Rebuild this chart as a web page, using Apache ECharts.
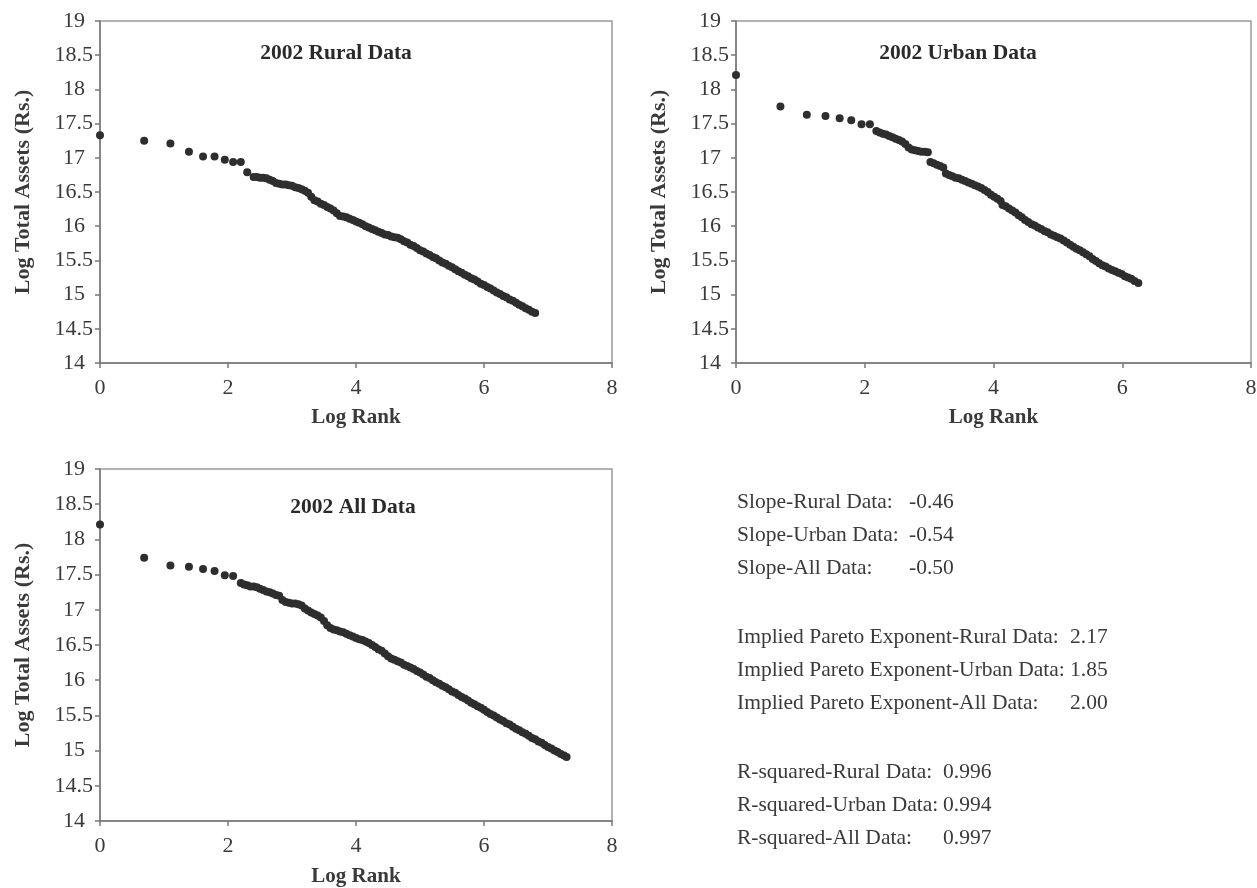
<!DOCTYPE html>
<html>
<head>
<meta charset="utf-8">
<script src="https://cdn.jsdelivr.net/npm/echarts@6/dist/echarts.min.js"></script>
<style>
  html, body { margin: 0; padding: 0; background: #fff; }
  #chart { width: 1257px; height: 888px; }
</style>
</head>
<body>
<div id="chart"></div>
<script>
// Log rank / log total assets pairs, 2002 rural firms
const ruralLogRank = [0, 0.69, 1.10, 1.39, 1.61, 1.79, 1.95, 2.08, 2.20, 2.30,
  2.40, 2.45, 2.50, 2.55, 2.60, 2.65, 2.70, 2.75, 2.80, 2.85, 2.90, 2.95, 3.00, 3.05, 3.10, 3.15, 3.20, 3.25, 3.30, 3.35,
  3.40, 3.45, 3.50, 3.55, 3.60, 3.65, 3.70, 3.75, 3.80, 3.85, 3.90, 3.95, 4.00, 4.05, 4.10, 4.15, 4.20, 4.25, 4.30, 4.35,
  4.40, 4.45, 4.50, 4.55, 4.60, 4.65, 4.70, 4.75, 4.80, 4.85, 4.90, 4.95, 5.00, 5.05, 5.10, 5.15, 5.20, 5.25, 5.30, 5.35,
  5.40, 5.45, 5.50, 5.55, 5.60, 5.65, 5.70, 5.75, 5.80, 5.85, 5.90, 5.95, 6.00, 6.05, 6.10, 6.15, 6.20, 6.25, 6.30, 6.35,
  6.40, 6.45, 6.50, 6.55, 6.60, 6.65, 6.70, 6.75, 6.80];
const ruralLogAssets = [17.33, 17.25, 17.21, 17.09, 17.02, 17.02, 16.97, 16.94, 16.94, 16.79,
  16.72, 16.72, 16.71, 16.71, 16.70, 16.68, 16.66, 16.63, 16.62, 16.61, 16.61, 16.60, 16.59, 16.57, 16.56, 16.54, 16.52, 16.49, 16.43, 16.38,
  16.36, 16.33, 16.31, 16.28, 16.26, 16.23, 16.19, 16.15, 16.14, 16.13, 16.11, 16.09, 16.07, 16.05, 16.03, 16.00, 15.98, 15.96, 15.94, 15.92,
  15.90, 15.88, 15.87, 15.85, 15.84, 15.83, 15.81, 15.78, 15.76, 15.73, 15.71, 15.68, 15.65, 15.63, 15.60, 15.58, 15.55, 15.53, 15.50, 15.47,
  15.45, 15.42, 15.40, 15.37, 15.34, 15.32, 15.29, 15.27, 15.24, 15.22, 15.19, 15.16, 15.14, 15.11, 15.09, 15.06, 15.03, 15.01, 14.98, 14.96,
  14.93, 14.91, 14.88, 14.85, 14.83, 14.80, 14.78, 14.75, 14.73];

// 2002 urban firms
const urbanLogRank = [0, 0.69, 1.10, 1.39, 1.61, 1.79, 1.95, 2.08,
  2.18, 2.23, 2.28, 2.33, 2.38, 2.43, 2.48, 2.53, 2.58, 2.63, 2.68, 2.73, 2.78, 2.83, 2.88, 2.93, 2.98,
  3.02, 3.07, 3.12, 3.17, 3.22, 3.26, 3.31, 3.36, 3.41, 3.46, 3.51, 3.56, 3.61, 3.66, 3.71, 3.76, 3.81, 3.86, 3.91, 3.96,
  4.01, 4.06, 4.11, 4.14, 4.19, 4.24, 4.29, 4.34, 4.39, 4.44, 4.49, 4.54, 4.59, 4.64, 4.69, 4.74, 4.79, 4.84, 4.89, 4.94,
  4.99, 5.04, 5.09, 5.14, 5.19, 5.24, 5.29, 5.34, 5.39, 5.44, 5.49, 5.54, 5.59, 5.64, 5.69, 5.74, 5.79, 5.84, 5.89, 5.94,
  5.99, 6.04, 6.09, 6.14, 6.19, 6.25];
const urbanLogAssets = [18.21, 17.75, 17.63, 17.61, 17.58, 17.55, 17.49, 17.49,
  17.39, 17.37, 17.35, 17.34, 17.32, 17.30, 17.28, 17.26, 17.24, 17.20, 17.15, 17.12, 17.11, 17.10, 17.09, 17.09, 17.08,
  16.94, 16.92, 16.90, 16.88, 16.86, 16.77, 16.75, 16.73, 16.71, 16.70, 16.68, 16.66, 16.64, 16.62, 16.60, 16.58, 16.56, 16.53, 16.50, 16.46,
  16.43, 16.40, 16.37, 16.31, 16.29, 16.26, 16.23, 16.20, 16.16, 16.13, 16.09, 16.06, 16.03, 16.01, 15.98, 15.96, 15.93, 15.91, 15.88, 15.86,
  15.84, 15.82, 15.79, 15.76, 15.73, 15.70, 15.67, 15.65, 15.62, 15.59, 15.56, 15.52, 15.49, 15.46, 15.43, 15.41, 15.38, 15.36, 15.34, 15.32,
  15.30, 15.27, 15.25, 15.23, 15.20, 15.17];

// 2002 all firms
const allLogRank = [0, 0.69, 1.10, 1.39, 1.61, 1.79, 1.95, 2.08,
  2.20, 2.25, 2.30, 2.35, 2.40, 2.45, 2.50, 2.55, 2.60, 2.65, 2.70, 2.75, 2.80, 2.85, 2.90, 2.95, 3.00, 3.05, 3.10, 3.15,
  3.20, 3.25, 3.30, 3.35, 3.40, 3.45, 3.50, 3.55, 3.60, 3.65, 3.70, 3.75, 3.80, 3.85, 3.90, 3.95, 4.00, 4.05, 4.10, 4.15,
  4.20, 4.25, 4.30, 4.35, 4.40, 4.45, 4.50, 4.55, 4.60, 4.65, 4.70, 4.75, 4.80, 4.85, 4.90, 4.95, 5.00, 5.05, 5.10, 5.15,
  5.20, 5.25, 5.30, 5.35, 5.40, 5.45, 5.50, 5.55, 5.60, 5.65, 5.70, 5.75, 5.80, 5.85, 5.90, 5.95, 6.00, 6.05, 6.10, 6.15,
  6.20, 6.25, 6.30, 6.35, 6.40, 6.45, 6.50, 6.55, 6.60, 6.65, 6.70, 6.75, 6.80, 6.85, 6.90, 6.95, 7.00, 7.05, 7.10, 7.15,
  7.20, 7.25, 7.29];
const allLogAssets = [18.21, 17.74, 17.63, 17.61, 17.58, 17.55, 17.49, 17.48,
  17.38, 17.36, 17.35, 17.33, 17.33, 17.32, 17.30, 17.28, 17.26, 17.25, 17.23, 17.21, 17.20, 17.14, 17.11, 17.10, 17.09, 17.09, 17.08, 17.06,
  17.02, 16.99, 16.96, 16.94, 16.92, 16.89, 16.84, 16.78, 16.74, 16.72, 16.71, 16.69, 16.68, 16.66, 16.64, 16.62, 16.60, 16.58, 16.57, 16.55,
  16.53, 16.50, 16.47, 16.44, 16.42, 16.38, 16.34, 16.31, 16.29, 16.27, 16.25, 16.22, 16.20, 16.18, 16.16, 16.13, 16.11, 16.08, 16.05, 16.03,
  16.00, 15.97, 15.95, 15.92, 15.90, 15.87, 15.84, 15.82, 15.79, 15.76, 15.74, 15.71, 15.68, 15.66, 15.63, 15.61, 15.58, 15.55, 15.52, 15.50,
  15.47, 15.44, 15.42, 15.39, 15.37, 15.34, 15.31, 15.29, 15.26, 15.24, 15.21, 15.18, 15.16, 15.13, 15.11, 15.08, 15.05, 15.03, 15.00, 14.98,
  14.95, 14.93, 14.91];

const panelTitles = ['2002 Rural Data', '2002 Urban Data', '2002 All Data'];

// Regression summary
const slopeLabels = ['Slope-Rural Data:', 'Slope-Urban Data:', 'Slope-All Data:'];
const slopeValues = ['-0.46', '-0.54', '-0.50'];
const paretoLabels = ['Implied Pareto Exponent-Rural Data:', 'Implied Pareto Exponent-Urban Data:', 'Implied Pareto Exponent-All Data:'];
const paretoValues = ['2.17', '1.85', '2.00'];
const r2Labels = ['R-squared-Rural Data:', 'R-squared-Urban Data:', 'R-squared-All Data:'];
const r2Values = ['0.996', '0.994', '0.997'];

const FONT = '"Liberation Serif", "Times New Roman", serif';
const TEXT = '#3a3a3a';
const DOT = '#2e2e2e';
const TICK_FONT = 22;

const grids = [
  { left: 100, top: 21, width: 512, height: 342 },
  { left: 736, top: 21, width: 515, height: 342 },
  { left: 100, top: 469, width: 512, height: 352 }
];
const xNameGaps = [44, 44, 45];

function pairs(xs, ys) { return xs.map((x, i) => [x, ys[i]]); }

const intLabelRich = {
  i: { fontFamily: FONT, fontSize: TICK_FONT, color: TEXT, padding: [0, 8, 0, 0] }
};

const xAxes = grids.map((g, i) => ({
  type: 'value', gridIndex: i, min: 0, max: 8, interval: 2,
  name: 'Log Rank', nameLocation: 'middle', nameGap: xNameGaps[i],
  nameTextStyle: { fontFamily: FONT, fontSize: 21, fontWeight: 'bold', color: TEXT },
  axisLine: { show: true, onZero: false, lineStyle: { color: '#777', width: 1.5 } },
  axisTick: { show: true, length: 5, lineStyle: { color: '#777', width: 1.5 } },
  axisLabel: { fontFamily: FONT, fontSize: TICK_FONT, color: TEXT, margin: 14 },
  splitLine: { show: false }
}));

const yAxes = grids.map((g, i) => ({
  type: 'value', gridIndex: i, min: 14, max: 19, interval: 0.5,
  name: 'Log Total Assets (Rs.)', nameLocation: 'middle', nameGap: 66,
  nameTextStyle: { fontFamily: FONT, fontSize: 22, fontWeight: 'bold', color: TEXT },
  axisLine: { show: true, onZero: false, lineStyle: { color: '#777', width: 1.5 } },
  axisTick: { show: true, length: 5, lineStyle: { color: '#777', width: 1.5 } },
  axisLabel: {
    fontFamily: FONT, fontSize: TICK_FONT, color: TEXT, margin: 7,
    formatter: v => Number.isInteger(v) ? '{i|' + v + '}' : String(v),
    rich: intLabelRich
  },
  splitLine: { show: false }
}));

const seriesData = [
  pairs(ruralLogRank, ruralLogAssets),
  pairs(urbanLogRank, urbanLogAssets),
  pairs(allLogRank, allLogAssets)
];

const series = seriesData.map((d, i) => ({
  type: 'scatter', xAxisIndex: i, yAxisIndex: i, data: d,
  symbol: 'circle', symbolSize: 8,
  itemStyle: { color: DOT, opacity: 1 },
  silent: true
}));

// Panel titles inside each plot
const titleAnchors = [[336, 53], [958, 53], [353, 507]];
const graphics = panelTitles.map((t, i) => ({
  type: 'text', x: titleAnchors[i][0], y: titleAnchors[i][1],
  style: {
    text: t, fontFamily: FONT, fontSize: 21.5, fontWeight: 'bold', fill: '#2a2a2a',
    textAlign: 'center', textVerticalAlign: 'middle'
  }
}));

// Summary block on the lower right
function addBlock(labels, values, valueX, startY) {
  labels.forEach((lab, k) => {
    const y = startY + k * 33;
    graphics.push({ type: 'text', x: 737, y: y,
      style: { text: lab, fontFamily: FONT, fontSize: 21.5, fill: TEXT, textAlign: 'left', textVerticalAlign: 'middle' } });
    graphics.push({ type: 'text', x: valueX, y: y,
      style: { text: values[k], fontFamily: FONT, fontSize: 21.5, fill: TEXT, textAlign: 'left', textVerticalAlign: 'middle' } });
  });
}
addBlock(slopeLabels, slopeValues, 909, 502);
addBlock(paretoLabels, paretoValues, 1070, 637);
addBlock(r2Labels, r2Values, 943, 772);

const chart = echarts.init(document.getElementById('chart'), null, { renderer: 'canvas' });
chart.setOption({
  animation: false,
  backgroundColor: '#fff',
  grid: grids.map(g => Object.assign({
    show: true, borderColor: '#9a9a9a', borderWidth: 1.5, backgroundColor: 'transparent',
    containLabel: false, outerBoundsMode: 'none'
  }, g)),
  xAxis: xAxes,
  yAxis: yAxes,
  series: series,
  graphic: graphics
});
</script>
</body>
</html>
